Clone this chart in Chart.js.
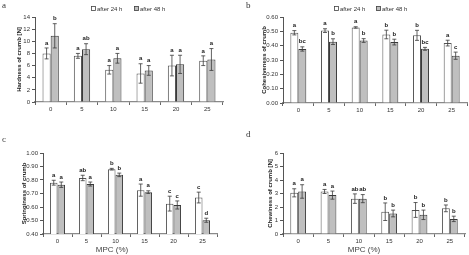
<!DOCTYPE html>
<html>
<head>
<meta charset="utf-8">
<script src="https://cdn.jsdelivr.net/npm/chart.js@4.4.0/dist/chart.umd.min.js"></script>
<style>
    html, body { margin: 0; padding: 0; background: #fff; }
    #wrap { position: relative; width: 469px; height: 255px; overflow: hidden; }
    .panel { position: absolute; }
</style>
</head>
<body>
<div id="wrap">
    <div class="panel" style="left:0;top:0"><canvas id="chartA" width="234" height="127"></canvas></div>
    <div class="panel" style="left:234px;top:0"><canvas id="chartB" width="235" height="127"></canvas></div>
    <div class="panel" style="left:0;top:127px"><canvas id="chartC" width="234" height="128"></canvas></div>
    <div class="panel" style="left:234px;top:127px"><canvas id="chartD" width="235" height="128"></canvas></div>
</div>
<script>
// MPC levels (%)
const mpcLabels = ['0', '5', '10', '15', '20', '25'];
const seriesNames = ['after 24 h', 'after 48 h'];

// a - hardness of crumb [N]
const hard24 = [8.0, 7.6, 5.3, 4.7, 6.0, 6.8];
const hard48 = [10.9, 8.7, 7.2, 5.2, 6.2, 7.0];
const hard24Err = [0.9, 0.4, 0.7, 1.6, 1.7, 0.8];
const hard48Err = [2.0, 0.9, 0.8, 0.8, 1.5, 1.8];
const hard24Let = ['a', 'a', 'a', 'a', 'a', 'a'];
const hard48Let = ['b', 'ab', 'a', 'a', 'a', 'a'];

// b - cohesiveness of crumb
const coh24 = [0.490, 0.505, 0.527, 0.478, 0.472, 0.418];
const coh48 = [0.377, 0.428, 0.436, 0.425, 0.378, 0.330];
const coh24Err = [0.015, 0.013, 0.005, 0.030, 0.035, 0.020];
const coh48Err = [0.015, 0.020, 0.013, 0.020, 0.010, 0.025];
const coh24Let = ['a', 'a', 'a', 'b', 'b', 'a'];
const coh48Let = ['bc', 'b', 'b', 'b', 'bc', 'c'];

// c - springiness of crumb
const spr24 = [0.780, 0.815, 0.880, 0.725, 0.625, 0.670];
const spr48 = [0.765, 0.770, 0.838, 0.710, 0.615, 0.502];
const spr24Err = [0.018, 0.020, 0.006, 0.045, 0.055, 0.040];
const spr48Err = [0.020, 0.015, 0.013, 0.010, 0.030, 0.015];
const spr24Let = ['a', 'ab', 'b', 'a', 'c', 'c'];
const spr48Let = ['a', 'a', 'b', 'a', 'c', 'd'];

// d - chewiness of crumb [N]
const chew24 = [3.05, 3.15, 2.62, 1.65, 1.78, 1.90];
const chew48 = [3.15, 2.88, 2.62, 1.52, 1.42, 1.12];
const chew24Err = [0.30, 0.15, 0.35, 0.65, 0.55, 0.25];
const chew48Err = [0.50, 0.30, 0.30, 0.25, 0.35, 0.20];
const chew24Let = ['a', 'a', 'ab', 'b', 'b', 'b'];
const chew48Let = ['a', 'a', 'ab', 'b', 'b', 'b'];

const FONT = '"Liberation Sans", Arial, sans-serif';
const WHITE_FILL = '#ffffff';
const GRAY_FILL = '#bfbfbf';

// error bars, significance letters, titles, legend
const extrasPlugin = {
    id: 'extras',
    afterDatasetsDraw(chart) {
        const o = chart.options.plugins.extras;
        const ctx = chart.ctx;
        const yScale = chart.scales.y;
        ctx.save();
        chart.data.datasets.forEach((ds, i) => {
            const meta = chart.getDatasetMeta(i);
            meta.data.forEach((bar, j) => {
                const v = ds.data[j];
                const e = o.errors[i][j];
                const yTop = yScale.getPixelForValue(v + e);
                const yBot = yScale.getPixelForValue(v - e);
                ctx.strokeStyle = '#3a3a3a';
                ctx.lineWidth = 0.8;
                ctx.beginPath();
                ctx.moveTo(bar.x, yTop); ctx.lineTo(bar.x, yBot);
                ctx.moveTo(bar.x - 2, yTop); ctx.lineTo(bar.x + 2, yTop);
                ctx.moveTo(bar.x - 2, yBot); ctx.lineTo(bar.x + 2, yBot);
                ctx.stroke();
                ctx.fillStyle = '#222';
                ctx.font = 'bold 6px ' + FONT;
                ctx.textAlign = 'center';
                ctx.textBaseline = 'bottom';
                ctx.fillText(o.letters[i][j], bar.x, Math.min(yTop, bar.y) - 2);
            });
        });
        ctx.restore();
    },
    afterDraw(chart) {
        const o = chart.options.plugins.extras;
        const ctx = chart.ctx;
        const area = chart.chartArea;
        ctx.save();
        // y axis title
        ctx.translate(o.yTitleX, (area.top + area.bottom) / 2);
        ctx.rotate(-Math.PI / 2);
        ctx.fillStyle = '#222';
        ctx.font = 'bold 6px ' + FONT;
        ctx.textAlign = 'center';
        ctx.textBaseline = 'middle';
        ctx.fillText(o.yTitle, 0, 0);
        ctx.restore();

        ctx.save();
        ctx.fillStyle = '#333';
        ctx.font = '9px "Liberation Serif", serif';
        ctx.textAlign = 'left';
        ctx.textBaseline = 'top';
        ctx.fillText(o.panel, o.panelX, o.panelY);
        if (o.xTitle) {
            ctx.font = '8px ' + FONT;
            ctx.fillStyle = '#444';
            ctx.textAlign = 'center';
            ctx.textBaseline = 'middle';
            ctx.fillText(o.xTitle, o.xTitleX, o.xTitleY);
        }
        if (o.legendX !== undefined) {
            const fills = [WHITE_FILL, GRAY_FILL];
            ctx.font = '6px ' + FONT;
            ctx.textBaseline = 'middle';
            ctx.textAlign = 'left';
            seriesNames.forEach((name, k) => {
                const x = o.legendX[k];
                ctx.fillStyle = fills[k];
                ctx.fillRect(x, 6, 5, 5);
                ctx.strokeStyle = '#444';
                ctx.lineWidth = 0.8;
                ctx.strokeRect(x + 0.5, 6.5, 4, 4);
                ctx.fillStyle = '#333';
                ctx.fillText(name, x + 6, 9);
            });
        }
        ctx.restore();
    }
};

function makeChart(id, cfg) {
    const canvas = document.getElementById(id);
    const W = canvas.width, H = canvas.height;
    const a = cfg.area; // [left, top, right, bottom]
    return new Chart(canvas, {
        type: 'bar',
        data: {
            labels: mpcLabels,
            datasets: [{
                label: seriesNames[0],
                data: cfg.s24,
                backgroundColor: WHITE_FILL,
                borderColor: '#555',
                borderWidth: 1,
                barPercentage: 1,
                categoryPercentage: 0.52
            }, {
                label: seriesNames[1],
                data: cfg.s48,
                backgroundColor: GRAY_FILL,
                borderColor: '#3a3a3a',
                borderWidth: 1,
                barPercentage: 1,
                categoryPercentage: 0.52
            }]
        },
        options: {
            responsive: false,
            animation: false,
            devicePixelRatio: 1,
            layout: { padding: { left: 0, top: a[1], right: W - a[2], bottom: 0 } },
            plugins: {
                legend: { display: false },
                tooltip: { enabled: false },
                extras: cfg.extras
            },
            scales: {
                x: {
                    type: 'category',
                    offset: true,
                    afterFit: s => { s.height = H - a[3]; },
                    grid: { offset: true, drawOnChartArea: false, drawTicks: true, tickLength: 3, color: '#666' },
                    border: { color: '#8a8a8a', width: 1.2 },
                    ticks: { font: { size: 6, family: FONT }, color: '#333', padding: 1, maxRotation: 0 }
                },
                y: {
                    min: cfg.min,
                    max: cfg.max,
                    afterFit: s => { s.width = a[0]; },
                    grid: { drawOnChartArea: false, drawTicks: true, tickLength: 3, color: '#555' },
                    border: { color: '#555', width: 1 },
                    ticks: {
                        stepSize: cfg.step,
                        font: { size: 6, family: FONT },
                        color: '#333',
                        padding: 2,
                        callback: v => cfg.decimals ? Number(v).toFixed(cfg.decimals) : v
                    }
                }
            }
        },
        plugins: [extrasPlugin]
    });
}

makeChart('chartA', {
    area: [35, 17, 223, 102],
    s24: hard24, s48: hard48, min: 0, max: 14, step: 2, decimals: 0,
    extras: {
        errors: [hard24Err, hard48Err], letters: [hard24Let, hard48Let],
        yTitle: 'Hardness of crumb [N]', yTitleX: 19,
        panel: 'a', panelX: 2, panelY: 1, legendX: [91, 134]
    }
});

makeChart('chartB', {
    area: [49, 17, 233, 103],
    s24: coh24, s48: coh48, min: 0, max: 0.6, step: 0.1, decimals: 2,
    extras: {
        errors: [coh24Err, coh48Err], letters: [coh24Let, coh48Let],
        yTitle: 'Cohesiveness of crumb', yTitleX: 30,
        panel: 'b', panelX: 12, panelY: 1, legendX: [100, 142]
    }
});

makeChart('chartC', {
    area: [43, 26, 217, 107],
    s24: spr24, s48: spr48, min: 0.4, max: 1.0, step: 0.1, decimals: 2,
    extras: {
        errors: [spr24Err, spr48Err], letters: [spr24Let, spr48Let],
        yTitle: 'Springiness of crumb', yTitleX: 24,
        panel: 'c', panelX: 2, panelY: 8,
        xTitle: 'MPC (%)', xTitleX: 112, xTitleY: 123
    }
});

makeChart('chartD', {
    area: [49, 26, 231, 107],
    s24: chew24, s48: chew48, min: 0, max: 6, step: 1, decimals: 0,
    extras: {
        errors: [chew24Err, chew48Err], letters: [chew24Let, chew48Let],
        yTitle: 'Chewiness of crumb [N]', yTitleX: 36,
        panel: 'd', panelX: 12, panelY: 3,
        xTitle: 'MPC (%)', xTitleX: 130, xTitleY: 123
    }
});
</script>
</body>
</html>
